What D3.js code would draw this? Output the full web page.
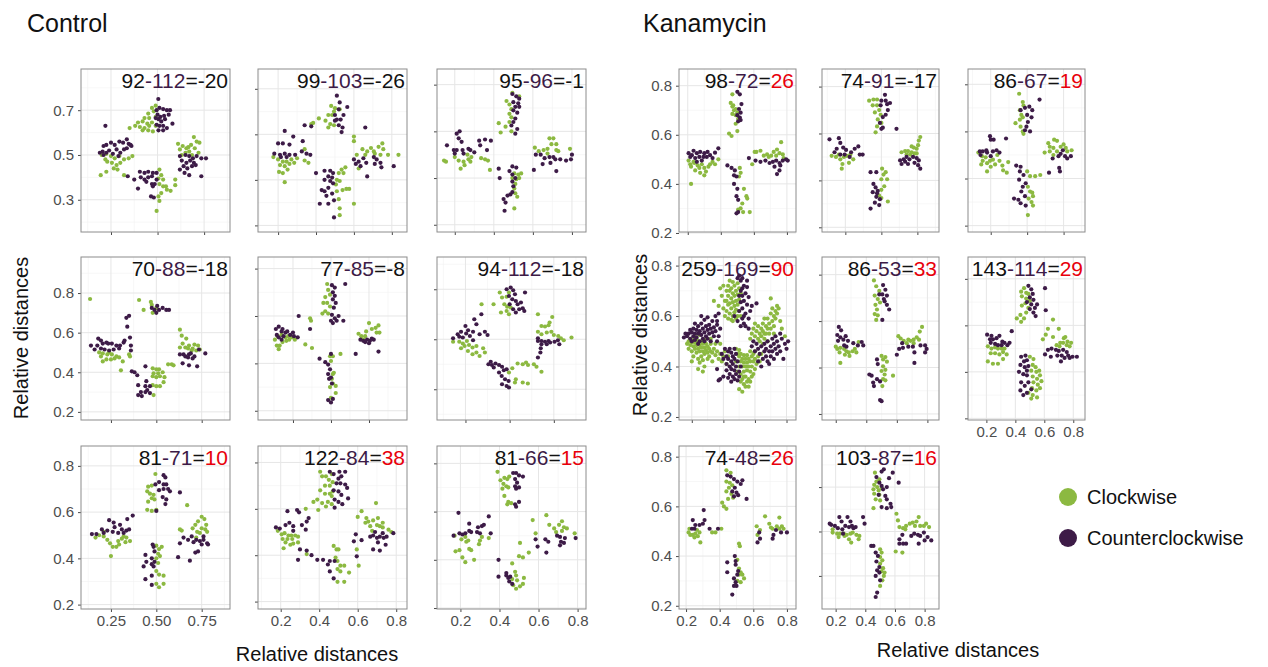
<!DOCTYPE html>
<html>
<head>
<meta charset="utf-8">
<script src="https://cdn.jsdelivr.net/npm/d3@7"></script>
<style>
  body { margin: 0; background: #fff; }
  svg { display: block; font-family: "Liberation Sans", Arial, Helvetica, sans-serif; }
</style>
</head>
<body>
<svg id="chart" width="1268" height="667"></svg>
<script>
// ---- counts shown in each panel label (clockwise - counterclockwise = diff)
const labelCw   = [92, 99, 95, 70, 77, 94, 81, 122, 81, 98, 74, 86, 259, 86, 143, 74, 103];
const labelCcw  = [112, 103, 96, 88, 85, 112, 71, 84, 66, 72, 91, 67, 169, 53, 114, 48, 87];
const labelDiff = [-20, -26, -1, -18, -8, -18, 10, 38, 15, 26, -17, 19, 90, 33, 29, 26, 16];

const seriesNames = ['Clockwise', 'Counterclockwise'];

// ---- Control
const c1Cw = [[.49,.72],[.47,.71],[.45,.685],[.48,.695],[.43,.665],[.455,.665],[.49,.67],[.395,.645],[.42,.65],[.445,.64],[.47,.645],[.38,.63],[.405,.625],[.43,.62],[.455,.63],[.49,.63],[.42,.61],[.45,.61],[.475,.605],[.35,.62],
  [.20,.50],[.225,.505],[.25,.495],[.27,.485],[.295,.495],[.32,.48],[.345,.485],[.365,.495],[.23,.47],[.255,.465],[.28,.455],[.30,.465],[.265,.44],[.285,.435],[.195,.41],[.225,.425],[.32,.41],[.22,.48],
  [.51,.435],[.52,.41],[.505,.395],[.53,.39],[.51,.37],[.53,.36],[.55,.345],[.52,.33],[.505,.315],[.51,.295],[.495,.25],[.595,.39],[.595,.365],[.57,.34],[.545,.36],
  [.61,.55],[.635,.54],[.655,.53],[.68,.545],[.695,.58],[.71,.56],[.725,.555],[.70,.53],[.67,.515],[.72,.51],[.65,.51],[.62,.525],[.685,.50],[.665,.535],[.63,.50]];
const c1Ccw = [[.504,.75],[.495,.70],[.51,.71],[.53,.705],[.55,.70],[.567,.70],[.50,.68],[.515,.67],[.535,.675],[.505,.66],[.52,.65],[.54,.66],[.495,.635],[.51,.63],[.53,.63],[.55,.62],[.505,.61],[.53,.61],[.58,.64],[.49,.665],[.56,.68],
  [.22,.63],[.21,.54],[.225,.545],[.25,.555],[.27,.545],[.295,.56],[.315,.555],[.335,.57],[.345,.55],[.36,.54],[.205,.515],[.225,.51],[.24,.52],[.26,.505],[.28,.525],[.30,.51],[.32,.525],[.335,.53],[.355,.545],[.21,.50],[.29,.495],[.19,.51],
  [.34,.405],[.375,.39],[.405,.425],[.43,.42],[.45,.425],[.475,.42],[.495,.42],[.41,.40],[.43,.39],[.45,.40],[.47,.405],[.47,.37],[.485,.37],[.475,.36],[.44,.38],[.465,.315],[.48,.31],[.495,.39],[.395,.35],
  [.62,.495],[.65,.50],[.67,.495],[.69,.485],[.71,.495],[.735,.485],[.76,.485],[.63,.475],[.655,.465],[.675,.475],[.695,.465],[.64,.45],[.66,.44],[.685,.45],[.705,.455],[.645,.42],[.67,.41],[.735,.405],[.62,.435]];

const c2Cw = [[.48,.725],[.50,.715],[.525,.71],[.465,.685],[.485,.685],[.415,.67],[.385,.65],[.45,.66],[.475,.645],[.495,.64],[.465,.63],[.495,.70],
  [.175,.50],[.20,.49],[.225,.48],[.245,.48],[.27,.49],[.30,.495],[.21,.465],[.235,.46],[.26,.47],[.285,.475],[.205,.435],[.225,.43],[.25,.445],[.235,.39],[.34,.485],[.36,.475],[.34,.535],[.375,.645],
  [.52,.43],[.535,.445],[.555,.455],[.545,.43],[.51,.40],[.525,.395],[.54,.355],[.56,.36],[.575,.36],[.51,.35],[.52,.315],[.525,.275],[.525,.245],[.60,.295],[.505,.38],
  [.60,.59],[.60,.57],[.645,.535],[.67,.525],[.69,.54],[.705,.525],[.73,.545],[.75,.56],[.755,.535],[.78,.51],[.835,.51],[.615,.51],[.66,.51],[.71,.515],[.625,.45],[.74,.51]];
const c2Ccw = [[.51,.77],[.525,.74],[.565,.72],[.52,.71],[.50,.685],[.51,.665],[.53,.665],[.52,.64],[.54,.63],[.535,.61],[.50,.66],[.545,.685],[.66,.63],
  [.235,.615],[.28,.59],[.20,.56],[.225,.56],[.26,.555],[.18,.515],[.21,.51],[.235,.515],[.26,.51],[.29,.51],[.215,.50],[.245,.50],[.33,.57],[.325,.525],[.35,.515],[.37,.51],[.34,.64],[.375,.635],
  [.40,.43],[.445,.44],[.475,.44],[.49,.43],[.465,.415],[.485,.41],[.445,.40],[.475,.395],[.49,.385],[.43,.355],[.445,.35],[.465,.365],[.485,.34],[.42,.295],[.465,.295],[.495,.31],[.495,.235],[.455,.33],
  [.60,.49],[.625,.48],[.65,.495],[.61,.47],[.635,.46],[.665,.475],[.67,.415],[.705,.50],[.72,.49],[.74,.475],[.71,.47],[.745,.455],[.81,.46]];

const c3Cw = [[.495,.765],[.465,.73],[.48,.715],[.49,.695],[.48,.675],[.49,.66],[.48,.64],[.425,.635],[.46,.62],[.435,.595],[.49,.60],[.53,.75],
  [.145,.475],[.155,.47],[.20,.49],[.22,.475],[.245,.47],[.265,.50],[.27,.48],[.285,.49],[.23,.44],[.28,.47],[.335,.485],[.355,.48],[.37,.475],[.38,.435],[.25,.455],
  [.505,.42],[.525,.415],[.54,.42],[.515,.395],[.53,.40],[.51,.375],[.505,.355],[.51,.335],[.52,.32],[.505,.27],[.495,.40],
  [.61,.53],[.63,.515],[.655,.52],[.675,.525],[.685,.57],[.705,.57],[.695,.545],[.72,.545],[.72,.52],[.73,.515],[.79,.525],[.675,.505]];
const c3Ccw = [[.495,.76],[.515,.75],[.53,.74],[.50,.725],[.525,.72],[.51,.705],[.53,.705],[.50,.69],[.52,.68],[.51,.655],[.50,.64],[.52,.61],[.51,.59],[.49,.625],
  [.225,.60],[.21,.59],[.22,.57],[.235,.555],[.16,.54],[.195,.52],[.21,.52],[.24,.52],[.20,.505],[.245,.505],[.28,.52],[.30,.51],[.325,.56],[.355,.565],[.385,.56],[.33,.54],[.365,.52],[.27,.525],
  [.425,.44],[.48,.43],[.495,.45],[.515,.445],[.495,.415],[.51,.40],[.495,.385],[.43,.40],[.50,.365],[.485,.33],[.47,.325],[.45,.31],[.46,.295],[.455,.26],[.495,.34],
  [.605,.435],[.615,.50],[.64,.50],[.66,.485],[.685,.49],[.705,.49],[.715,.48],[.74,.48],[.77,.475],[.795,.48],[.80,.50],[.72,.43],[.65,.46],[.69,.465]];

const c4Cw = [[.135,.77],[.185,.50],[.205,.495],[.23,.49],[.24,.50],[.255,.49],[.28,.48],[.205,.455],[.225,.465],[.25,.465],[.27,.47],[.295,.475],[.315,.455],[.305,.41],[.35,.49],[.355,.48],[.195,.48],
  [.405,.765],[.47,.755],[.475,.74],[.43,.715],[.48,.70],[.50,.725],
  [.48,.42],[.50,.415],[.515,.415],[.485,.395],[.51,.395],[.535,.40],[.48,.38],[.50,.375],[.52,.38],[.545,.375],[.48,.335],[.50,.33],[.52,.33],[.54,.35],[.485,.285],[.565,.44],[.585,.44],[.595,.435],
  [.63,.615],[.64,.585],[.665,.57],[.645,.545],[.63,.525],[.66,.525],[.68,.535],[.70,.52],[.71,.54],[.73,.535],[.72,.51],[.74,.515],[.695,.51],[.675,.52]];
const c4Ccw = [[.14,.535],[.175,.535],[.18,.57],[.195,.56],[.205,.545],[.225,.55],[.235,.545],[.255,.545],[.28,.535],[.195,.52],[.215,.515],[.24,.51],[.265,.515],[.295,.52],[.30,.535],[.32,.55],[.325,.56],[.355,.575],[.36,.535],[.36,.51],[.34,.63],[.335,.675],[.35,.685],[.16,.515],
  [.475,.725],[.49,.715],[.50,.70],[.515,.715],[.535,.725],[.555,.715],[.57,.715],[.505,.735],
  [.365,.405],[.38,.40],[.395,.385],[.44,.43],[.40,.335],[.40,.285],[.415,.30],[.44,.30],[.45,.31],[.465,.295],[.42,.28],[.445,.355],[.465,.33],[.44,.33],
  [.63,.49],[.65,.49],[.66,.48],[.68,.49],[.69,.495],[.71,.48],[.675,.475],[.70,.47],[.645,.445],[.68,.435],[.725,.43],[.77,.495],[.735,.515]];

const c5Cw = [[.48,.735],[.485,.71],[.47,.68],[.48,.655],[.455,.61],[.47,.62],[.495,.64],[.485,.61],[.46,.655],[.495,.69],[.39,.59],[.395,.58],
  [.205,.50],[.22,.515],[.24,.52],[.26,.51],[.275,.515],[.295,.51],[.31,.50],[.245,.49],[.265,.495],[.215,.475],[.23,.475],[.225,.46],[.365,.48],[.40,.465],[.28,.50],
  [.495,.43],[.51,.43],[.50,.41],[.55,.44],[.51,.355],[.515,.36],[.505,.335],[.51,.315],[.525,.305],[.495,.30],[.525,.275],[.50,.255],
  [.645,.525],[.66,.515],[.68,.515],[.70,.57],[.715,.545],[.735,.55],[.75,.56],[.74,.53],[.685,.535],[.67,.50],[.755,.53]];
const c5Ccw = [[.505,.73],[.52,.72],[.575,.735],[.51,.70],[.52,.685],[.51,.67],[.525,.655],[.515,.635],[.505,.605],[.52,.59],[.53,.58],[.50,.58],[.51,.57],[.565,.58],[.54,.60],[.33,.60],
  [.21,.545],[.225,.555],[.24,.535],[.215,.52],[.245,.545],[.26,.53],[.27,.535],[.285,.52],[.30,.53],[.305,.515],[.325,.51],[.225,.51],[.25,.515],[.24,.50],[.39,.545],
  [.50,.44],[.47,.405],[.485,.395],[.495,.375],[.44,.42],[.485,.355],[.50,.34],[.49,.335],[.505,.315],[.485,.245],[.50,.235],[.51,.25],
  [.63,.44],[.655,.50],[.67,.495],[.69,.50],[.705,.495],[.715,.505],[.70,.485],[.68,.49],[.75,.45],[.725,.50]];

const c6Cw = [[.444,.687],[.457,.667],[.483,.67],[.496,.687],[.47,.64],[.486,.63],[.506,.627],[.483,.613],[.451,.607],[.409,.64],[.341,.64],[.496,.60],
  [.18,.49],[.215,.49],[.235,.483],[.258,.493],[.245,.473],[.27,.477],[.225,.464],[.264,.453],[.29,.467],[.312,.473],[.35,.464],[.36,.447],[.312,.447],[.33,.433],[.29,.44],
  [.545,.403],[.574,.40],[.593,.407],[.604,.397],[.637,.40],[.652,.39],[.68,.37],[.515,.384],[.496,.367],[.535,.34],[.53,.327],[.574,.327],[.603,.323],
  [.66,.60],[.741,.589],[.726,.567],[.68,.553],[.70,.551],[.72,.556],[.66,.53],[.68,.52],[.71,.527],[.736,.53],[.75,.517],[.775,.513],[.806,.496],[.85,.507],[.79,.504]];
const c6Ccw = [[.483,.70],[.506,.707],[.52,.696],[.53,.68],[.496,.673],[.515,.66],[.535,.653],[.545,.64],[.564,.647],[.574,.624],[.554,.62],[.52,.62],[.587,.687],[.50,.64],[.535,.607],[.583,.613],
  [.18,.504],[.206,.52],[.225,.53],[.25,.553],[.265,.536],[.293,.53],[.312,.56],[.30,.58],[.34,.60],[.33,.52],[.36,.53],[.375,.517],[.235,.507],[.275,.513],[.215,.51],[.293,.496],[.254,.523],
  [.38,.40],[.393,.41],[.42,.403],[.44,.397],[.41,.387],[.457,.39],[.467,.376],[.483,.38],[.44,.367],[.455,.353],[.474,.34],[.494,.333],[.457,.32],[.483,.313],[.496,.307],[.40,.397],
  [.66,.493],[.68,.493],[.70,.49],[.72,.493],[.729,.487],[.71,.48],[.68,.48],[.754,.49],[.773,.496],[.781,.48],[.674,.447],[.66,.427],[.66,.504],[.676,.464]];

const c7Cw = [[.165,.49],[.185,.50],[.21,.495],[.23,.48],[.245,.465],[.26,.45],[.28,.45],[.29,.475],[.31,.485],[.32,.495],[.335,.49],[.355,.475],[.33,.47],[.25,.41],[.295,.46],[.21,.515],
  [.495,.765],[.455,.71],[.475,.715],[.45,.69],[.465,.68],[.485,.675],[.455,.645],[.475,.66],[.49,.655],[.45,.61],[.475,.605],[.50,.61],
  [.50,.455],[.515,.44],[.51,.42],[.52,.41],[.50,.40],[.51,.38],[.50,.345],[.515,.33],[.54,.325],[.50,.29],[.515,.275],[.54,.29],[.53,.45],
  [.63,.525],[.64,.52],[.67,.63],[.70,.53],[.715,.545],[.73,.56],[.75,.58],[.765,.57],[.775,.545],[.75,.53],[.725,.515],[.74,.51],[.77,.525],[.78,.515],[.72,.49]];
const c7Ccw = [[.145,.505],[.17,.505],[.20,.525],[.21,.51],[.23,.52],[.24,.565],[.265,.555],[.27,.535],[.29,.51],[.31,.525],[.32,.51],[.335,.52],[.35,.525],[.34,.57],[.37,.585],[.30,.545],[.26,.515],
  [.54,.76],[.55,.75],[.515,.73],[.54,.72],[.555,.72],[.515,.695],[.54,.70],[.565,.70],[.575,.69],[.535,.665],[.555,.655],[.55,.635],[.50,.605],[.63,.685],[.495,.72],
  [.44,.415],[.445,.385],[.43,.365],[.475,.375],[.48,.46],[.485,.45],[.49,.43],[.475,.40],[.49,.385],[.485,.365],[.475,.325],[.44,.31],[.475,.285],
  [.62,.405],[.63,.465],[.65,.49],[.675,.48],[.695,.495],[.72,.48],[.74,.475],[.76,.48],[.78,.465],[.785,.46],[.75,.46],[.73,.43],[.715,.425],[.685,.39],[.76,.495],[.705,.47]];

const c8Cw = [[.405,.76],[.415,.74],[.435,.74],[.45,.725],[.465,.75],[.43,.70],[.455,.70],[.47,.715],[.405,.68],[.43,.665],[.455,.665],[.47,.675],[.39,.64],[.415,.625],[.445,.63],[.465,.655],[.37,.63],[.395,.595],[.435,.61],[.465,.62],
  [.185,.505],[.205,.49],[.22,.495],[.24,.485],[.255,.485],[.275,.485],[.29,.48],[.21,.47],[.235,.47],[.26,.47],[.29,.455],[.215,.43],[.25,.445],[.265,.45],[.335,.405],[.33,.60],[.225,.455],
  [.475,.44],[.49,.425],[.50,.425],[.485,.39],[.495,.375],[.51,.355],[.495,.34],[.51,.33],[.53,.355],[.495,.285],[.53,.285],[.555,.325],
  [.595,.425],[.605,.355],[.60,.565],[.62,.59],[.64,.54],[.655,.545],[.665,.525],[.68,.55],[.695,.625],[.70,.53],[.715,.525],[.73,.54],[.73,.52],[.76,.51],[.775,.50],[.645,.56],[.675,.505],[.705,.56]];
const c8Ccw = [[.455,.76],[.475,.75],[.505,.76],[.535,.76],[.50,.73],[.515,.74],[.49,.71],[.51,.71],[.535,.705],[.545,.69],[.475,.68],[.50,.675],[.515,.66],[.48,.64],[.50,.63],[.55,.645],[.48,.605],[.52,.62],
  [.175,.52],[.195,.515],[.225,.53],[.245,.54],[.265,.525],[.235,.59],[.285,.595],[.295,.585],[.31,.53],[.33,.51],[.335,.545],[.345,.56],[.265,.505],[.30,.425],[.29,.38],[.335,.42],[.36,.40],[.39,.38],[.42,.38],
  [.445,.36],[.455,.33],[.475,.30],[.48,.375],[.455,.375],
  [.58,.46],[.59,.49],[.595,.395],[.62,.465],[.665,.48],[.68,.485],[.70,.475],[.715,.48],[.735,.475],[.75,.48],[.705,.455],[.745,.445],[.715,.42],[.68,.425],[.785,.495],[.73,.495],[.69,.50]];

const c9Cw = [[.39,.765],[.405,.73],[.425,.74],[.44,.735],[.45,.745],[.42,.715],[.435,.705],[.415,.695],[.445,.70],[.425,.665],[.445,.64],[.44,.63],[.46,.635],
  [.17,.50],[.175,.435],[.195,.44],[.205,.485],[.21,.41],[.225,.495],[.23,.475],[.24,.48],[.245,.445],[.225,.39],[.27,.40],[.295,.465],[.30,.48],[.31,.495],[.345,.49],[.255,.44],
  [.465,.385],[.48,.35],[.485,.335],[.465,.32],[.49,.315],[.47,.295],[.485,.28],[.505,.29],[.52,.30],[.505,.47],[.50,.415],[.52,.41],[.55,.43],[.525,.325],
  [.57,.565],[.585,.51],[.655,.545],[.68,.53],[.69,.515],[.705,.545],[.72,.56],[.73,.535],[.745,.53],[.72,.52],[.64,.585],[.785,.51]];
const c9Ccw = [[.47,.76],[.485,.76],[.50,.75],[.52,.745],[.48,.735],[.49,.72],[.48,.705],[.485,.695],[.50,.70],[.50,.64],[.485,.62],[.48,.63],
  [.165,.50],[.19,.595],[.195,.51],[.21,.505],[.225,.51],[.245,.55],[.245,.52],[.255,.515],[.285,.515],[.29,.535],[.30,.51],[.31,.54],[.32,.545],[.345,.58],[.355,.51],
  [.395,.40],[.395,.33],[.435,.335],[.445,.325],[.455,.33],[.45,.31],[.465,.30],[.435,.345],
  [.585,.485],[.595,.455],[.635,.485],[.64,.43],[.695,.50],[.71,.495],[.715,.475],[.73,.47],[.71,.46],[.735,.49],[.79,.49],[.65,.475]];

// ---- Kanamycin
const k1Cw = [[.205,.495],[.22,.47],[.235,.49],[.245,.455],[.26,.475],[.27,.465],[.285,.48],[.30,.465],[.31,.45],[.325,.47],[.335,.48],[.35,.49],[.365,.48],[.385,.50],[.22,.40],[.275,.445],[.30,.435],[.24,.485],[.215,.48],
  [.47,.765],[.46,.73],[.47,.715],[.48,.70],[.49,.705],[.50,.69],[.47,.685],[.49,.68],[.505,.665],[.49,.645],[.45,.605],[.465,.595],[.50,.615],[.475,.72],
  [.515,.465],[.52,.445],[.51,.43],[.54,.38],[.555,.35],[.53,.32],[.52,.30],[.505,.295],[.535,.285],[.575,.285],[.56,.34],
  [.605,.53],[.615,.53],[.64,.535],[.66,.515],[.68,.52],[.705,.515],[.72,.53],[.74,.54],[.765,.57],[.755,.525],[.775,.52],[.78,.505],[.59,.48],[.735,.515],[.69,.51]];
const k1Ccw = [[.205,.525],[.225,.517],[.235,.535],[.255,.525],[.275,.53],[.30,.525],[.32,.53],[.335,.517],[.365,.527],[.385,.545],[.215,.51],[.245,.505],[.27,.51],[.295,.51],[.315,.51],[.35,.505],[.255,.49],[.285,.495],
  [.50,.775],[.515,.765],[.525,.725],[.51,.705],[.52,.69],[.515,.67],[.505,.655],[.52,.66],[.50,.68],
  [.44,.475],[.465,.465],[.485,.455],[.48,.435],[.495,.43],[.48,.40],[.50,.38],[.495,.35],[.505,.335],[.495,.28],[.505,.285],
  [.57,.505],[.61,.495],[.64,.49],[.67,.495],[.695,.485],[.715,.49],[.735,.495],[.755,.485],[.775,.495],[.795,.50],[.725,.47],[.755,.455],[.74,.44],[.76,.475],[.805,.495]];

const k2Cw = [[.415,.74],[.445,.745],[.47,.745],[.44,.72],[.47,.72],[.485,.70],[.455,.69],[.495,.68],[.475,.66],[.50,.645],[.47,.63],[.46,.605],
  [.155,.505],[.185,.50],[.205,.51],[.215,.49],[.24,.50],[.26,.505],[.285,.51],[.23,.47],[.275,.475],[.305,.49],[.225,.45],
  [.505,.45],[.515,.425],[.53,.435],[.50,.405],[.54,.405],[.52,.375],[.50,.36],[.485,.335],[.50,.325],[.545,.31],
  [.64,.52],[.665,.525],[.685,.525],[.71,.52],[.725,.54],[.745,.535],[.755,.55],[.76,.57],[.77,.585],[.73,.515],[.71,.545],[.745,.515],[.675,.51],[.70,.51]];
const k2Ccw = [[.14,.575],[.205,.58],[.215,.56],[.19,.535],[.175,.52],[.235,.54],[.255,.53],[.245,.51],[.29,.52],[.315,.535],[.34,.545],[.35,.51],[.37,.51],[.28,.50],[.215,.51],
  [.525,.765],[.50,.74],[.53,.74],[.54,.725],[.495,.72],[.545,.70],[.53,.68],[.51,.67],[.49,.645],[.51,.625],[.50,.62],[.605,.62],[.56,.73],
  [.425,.435],[.465,.435],[.445,.385],[.46,.37],[.44,.35],[.475,.355],[.465,.33],[.49,.32],[.455,.305],[.425,.28],[.485,.295],[.47,.345],
  [.63,.485],[.64,.47],[.655,.49],[.675,.50],[.695,.49],[.72,.50],[.745,.495],[.76,.485],[.77,.45],[.73,.475],[.685,.47],[.755,.465],[.665,.48]];

const k3Cw = [[.445,.76],[.47,.725],[.475,.71],[.45,.69],[.46,.67],[.47,.66],[.42,.635],[.455,.62],[.47,.60],[.475,.59],[.45,.65],
  [.165,.51],[.19,.495],[.195,.475],[.215,.49],[.225,.465],[.245,.475],[.25,.45],[.265,.48],[.28,.46],[.295,.50],[.31,.475],[.335,.435],[.36,.425],[.225,.43],[.185,.46],[.33,.455],[.37,.47],
  [.50,.43],[.52,.41],[.555,.41],[.59,.415],[.505,.365],[.52,.345],[.535,.34],[.51,.315],[.53,.30],[.54,.285],[.505,.245],[.54,.325],
  [.62,.51],[.645,.55],[.655,.535],[.68,.53],[.685,.565],[.705,.56],[.73,.535],[.75,.545],[.765,.53],[.68,.50],[.705,.515],[.775,.515],[.805,.52],[.655,.515]];
const k3Ccw = [[.455,.69],[.485,.70],[.515,.705],[.535,.69],[.50,.67],[.53,.66],[.505,.64],[.495,.62],[.485,.605],[.52,.60],[.585,.735],
  [.175,.515],[.18,.50],[.195,.515],[.225,.51],[.245,.58],[.25,.565],[.265,.515],[.29,.52],[.31,.51],[.27,.565],[.355,.57],[.25,.495],[.22,.52],
  [.425,.455],[.455,.45],[.45,.43],[.475,.415],[.445,.395],[.47,.365],[.49,.38],[.46,.345],[.485,.325],[.455,.295],[.49,.285],[.41,.315],[.44,.31],
  [.675,.485],[.715,.495],[.73,.505],[.76,.495],[.775,.485],[.80,.495],[.72,.445],[.725,.43],[.65,.425],[.745,.52]];

const k4Cw = [[.17,.49],[.18,.50],[.18,.47],[.19,.485],[.19,.51],[.20,.46],[.20,.495],[.21,.48],[.21,.505],[.21,.44],[.22,.47],[.22,.495],[.23,.455],[.23,.485],[.23,.51],[.24,.47],[.24,.43],[.24,.50],[.25,.46],[.25,.485],[.25,.415],[.26,.475],[.26,.50],[.26,.44],[.27,.46],[.27,.49],[.27,.425],[.28,.475],[.28,.45],[.28,.40],[.29,.465],[.29,.49],[.30,.455],[.30,.48],[.30,.43],[.31,.47],[.31,.44],[.32,.46],[.32,.49],[.33,.455],[.33,.42],[.34,.47],[.35,.445],[.36,.46],[.37,.43],[.38,.45],[.39,.42],[.40,.44],[.41,.46],[.22,.52],[.25,.525],[.29,.51],[.20,.42],[.24,.39],[.27,.38],[.32,.51],[.35,.49],[.38,.49],[.42,.41],[.43,.44],
  [.40,.63],[.41,.60],[.41,.66],[.42,.70],[.42,.62],[.43,.72],[.43,.68],[.43,.59],[.44,.74],[.44,.65],[.44,.61],[.45,.71],[.45,.67],[.45,.63],[.45,.585],[.46,.735],[.46,.69],[.46,.655],[.46,.60],[.47,.72],[.47,.68],[.47,.64],[.47,.615],[.48,.70],[.48,.66],[.48,.625],[.48,.59],[.49,.73],[.49,.685],[.49,.645],[.50,.71],[.50,.665],[.50,.62],[.51,.69],[.51,.60],[.42,.66],[.44,.70],[.46,.58],[.39,.68],[.37,.64],[.34,.66],[.38,.71],[.40,.72],[.49,.60],[.43,.645],
  [.48,.47],[.49,.45],[.50,.44],[.50,.465],[.51,.42],[.51,.45],[.52,.43],[.52,.40],[.53,.445],[.53,.415],[.53,.38],[.54,.43],[.54,.40],[.54,.36],[.55,.445],[.55,.415],[.55,.385],[.56,.43],[.56,.40],[.56,.35],[.57,.42],[.57,.38],[.58,.44],[.58,.40],[.59,.42],[.59,.37],[.60,.43],[.60,.39],[.61,.41],[.62,.44],[.50,.40],[.51,.37],[.52,.35],[.53,.33],[.54,.32],[.55,.34],[.57,.34],[.58,.36],[.50,.31],[.52,.30],[.49,.38],[.48,.42],[.63,.42],[.64,.45],[.60,.46],[.57,.46],[.51,.34],[.56,.32],[.53,.36],[.59,.45],
  [.58,.53],[.59,.55],[.60,.52],[.61,.54],[.62,.51],[.62,.56],[.63,.53],[.63,.50],[.64,.55],[.64,.52],[.65,.57],[.65,.54],[.65,.49],[.66,.53],[.66,.51],[.67,.56],[.67,.53],[.68,.59],[.68,.55],[.68,.50],[.69,.57],[.69,.53],[.70,.61],[.70,.55],[.71,.58],[.71,.63],[.72,.60],[.72,.56],[.73,.62],[.73,.59],[.74,.61],[.74,.64],[.70,.67],[.75,.63],[.76,.58],[.77,.55],[.79,.52],[.57,.51],[.60,.57],[.66,.59],[.72,.53]];
const k4Ccw = [[.15,.515],[.17,.52],[.18,.53],[.19,.51],[.20,.535],[.21,.52],[.21,.55],[.22,.505],[.22,.53],[.23,.545],[.23,.515],[.24,.56],[.24,.53],[.25,.50],[.25,.54],[.26,.57],[.26,.525],[.27,.55],[.27,.51],[.28,.585],[.28,.535],[.29,.56],[.29,.52],[.30,.545],[.30,.595],[.31,.53],[.31,.565],[.32,.55],[.32,.50],[.33,.58],[.33,.535],[.34,.555],[.34,.52],[.35,.54],[.36,.50],[.36,.565],[.37,.52],[.19,.545],[.20,.50],[.24,.49],[.26,.60],[.30,.51],[.35,.60],[.38,.55],[.16,.53],[.22,.57],[.28,.50],
  [.50,.76],[.51,.74],[.52,.75],[.53,.72],[.51,.70],[.52,.68],[.54,.69],[.53,.66],[.51,.655],[.52,.63],[.55,.645],[.54,.61],[.52,.59],[.53,.57],[.51,.56],[.56,.675],[.55,.715],[.50,.62],[.53,.60],[.57,.62],[.56,.59],[.49,.58],[.54,.56],[.37,.61],[.36,.58],[.58,.64],[.61,.65],[.55,.74],[.52,.71],[.50,.68],[.49,.75],[.56,.55],[.47,.60],
  [.39,.45],[.40,.43],[.41,.47],[.42,.44],[.42,.41],[.43,.46],[.43,.43],[.44,.40],[.44,.37],[.45,.455],[.45,.42],[.45,.39],[.46,.44],[.46,.41],[.46,.36],[.47,.43],[.47,.385],[.47,.35],[.48,.40],[.48,.37],[.49,.42],[.49,.345],[.50,.38],[.50,.36],[.38,.35],[.37,.345],[.40,.36],[.42,.385],[.44,.47],[.48,.45],[.51,.40],[.36,.39],[.45,.34],[.47,.47],[.43,.355],
  [.58,.48],[.59,.50],[.60,.46],[.61,.49],[.62,.47],[.63,.45],[.64,.48],[.65,.43],[.66,.46],[.66,.49],[.67,.44],[.67,.47],[.68,.50],[.68,.42],[.69,.46],[.70,.48],[.70,.44],[.71,.51],[.71,.46],[.72,.43],[.72,.49],[.73,.47],[.73,.52],[.74,.45],[.74,.50],[.75,.48],[.76,.46],[.77,.51],[.78,.43],[.79,.49],[.80,.47],[.81,.50],[.76,.53],[.64,.40],[.69,.41],[.62,.42]];

const k5Cw = [[.45,.775],[.465,.75],[.485,.73],[.455,.71],[.475,.695],[.46,.67],[.47,.65],[.455,.63],[.465,.605],[.475,.625],[.49,.68],
  [.20,.49],[.21,.48],[.23,.485],[.255,.48],[.27,.47],[.285,.465],[.31,.47],[.325,.48],[.225,.465],[.26,.455],[.29,.45],[.23,.42],[.35,.51],[.335,.465],
  [.50,.45],[.51,.435],[.525,.445],[.535,.425],[.51,.405],[.50,.385],[.52,.37],[.51,.35],[.525,.345],[.505,.32],[.575,.365],[.525,.39],
  [.61,.535],[.625,.525],[.645,.515],[.665,.505],[.69,.515],[.71,.52],[.73,.53],[.75,.555],[.765,.575],[.745,.52],[.71,.505],[.675,.52]];
const k5Ccw = [[.22,.575],[.235,.56],[.21,.54],[.23,.53],[.25,.52],[.265,.535],[.28,.515],[.255,.495],[.215,.515],[.315,.505],[.345,.495],[.37,.51],[.38,.495],[.27,.49],
  [.51,.755],[.525,.735],[.535,.71],[.515,.695],[.505,.715],[.52,.685],[.535,.67],[.55,.65],[.505,.605],[.485,.715],
  [.47,.435],[.475,.415],[.42,.37],[.445,.335],[.47,.35],[.49,.34],[.45,.32],[.49,.26],[.50,.255],[.435,.365],
  [.60,.455],[.615,.48],[.64,.485],[.675,.49],[.705,.49],[.715,.465],[.755,.495],[.785,.495],[.795,.48],[.715,.42],[.785,.465],[.635,.505]];

const k6Cw = [[.44,.745],[.46,.76],[.475,.74],[.49,.735],[.445,.725],[.475,.715],[.50,.705],[.47,.695],[.445,.685],[.49,.675],[.475,.655],[.435,.645],[.46,.63],[.41,.63],[.44,.615],
  [.21,.51],[.235,.50],[.26,.505],[.28,.50],[.305,.50],[.325,.50],[.23,.48],[.26,.48],[.29,.475],[.315,.485],[.34,.475],[.21,.445],[.245,.435],[.28,.435],[.315,.455],
  [.50,.465],[.525,.455],[.52,.43],[.54,.42],[.51,.405],[.545,.40],[.565,.405],[.52,.38],[.55,.37],[.57,.385],[.525,.355],[.555,.345],[.58,.36],[.515,.33],[.545,.32],[.57,.33],[.52,.30],[.51,.285],[.55,.29],[.49,.31],
  [.59,.54],[.61,.56],[.625,.585],[.66,.55],[.66,.625],[.685,.515],[.71,.525],[.73,.525],[.755,.515],[.775,.51],[.705,.51],[.735,.545],[.76,.53],[.785,.525],[.70,.585],[.745,.55]];
const k6Ccw = [[.49,.77],[.51,.755],[.52,.735],[.50,.72],[.525,.71],[.51,.69],[.535,.675],[.50,.67],[.525,.655],[.54,.64],[.605,.76],[.61,.665],[.48,.70],[.55,.69],
  [.205,.56],[.235,.555],[.245,.54],[.27,.545],[.29,.555],[.31,.53],[.23,.525],[.26,.52],[.28,.515],[.305,.515],[.325,.525],[.345,.515],[.36,.525],[.375,.575],[.225,.54],
  [.44,.465],[.46,.445],[.47,.47],[.48,.45],[.435,.43],[.465,.42],[.49,.425],[.425,.40],[.455,.39],[.48,.385],[.44,.355],[.465,.34],[.49,.355],[.435,.32],[.455,.30],[.48,.31],[.51,.325],[.48,.405],
  [.605,.475],[.625,.495],[.65,.50],[.68,.495],[.70,.49],[.73,.495],[.755,.485],[.69,.47],[.72,.47],[.74,.46],[.765,.47],[.715,.445],[.775,.46],[.795,.465],[.825,.465],[.645,.465]];

const k7Cw = [[.215,.495],[.225,.485],[.24,.485],[.255,.49],[.265,.505],[.25,.475],[.27,.48],[.28,.495],[.285,.455],[.355,.495],[.375,.495],[.41,.51],[.22,.51],
  [.44,.745],[.465,.735],[.44,.70],[.46,.695],[.475,.685],[.455,.675],[.44,.66],[.47,.65],[.45,.63],[.425,.60],[.44,.59],[.415,.615],[.48,.635],
  [.515,.45],[.52,.44],[.505,.385],[.515,.35],[.525,.335],[.515,.325],[.535,.325],[.545,.31],[.505,.30],[.525,.295],
  [.62,.52],[.64,.505],[.625,.485],[.67,.56],[.695,.53],[.705,.515],[.74,.52],[.755,.51],[.77,.52],[.755,.555],[.78,.51],[.715,.51]];
const k7Ccw = [[.24,.545],[.255,.525],[.25,.51],[.28,.525],[.30,.53],[.305,.585],[.31,.545],[.34,.51],[.39,.51],[.235,.51],
  [.445,.725],[.465,.72],[.485,.71],[.505,.70],[.49,.675],[.475,.66],[.50,.655],[.51,.645],[.525,.69],[.535,.705],[.56,.63],[.485,.64],
  [.49,.40],[.495,.38],[.495,.365],[.445,.375],[.445,.335],[.51,.34],[.505,.325],[.485,.31],[.495,.295],[.475,.245],[.50,.28],[.485,.28],
  [.635,.495],[.64,.47],[.625,.455],[.72,.485],[.715,.47],[.735,.505],[.765,.495],[.80,.495]];

const k8Cw = [[.465,.765],[.475,.725],[.495,.735],[.46,.71],[.48,.70],[.455,.69],[.49,.685],[.46,.67],[.495,.665],[.47,.645],[.50,.64],[.455,.605],[.51,.695],
  [.18,.495],[.21,.49],[.23,.49],[.255,.49],[.275,.485],[.30,.49],[.315,.495],[.34,.485],[.22,.475],[.26,.48],[.29,.465],[.305,.45],[.355,.465],[.36,.48],[.18,.51],
  [.50,.42],[.51,.405],[.50,.385],[.515,.37],[.50,.355],[.52,.335],[.51,.32],[.525,.30],[.515,.28],[.50,.255],[.53,.315],
  [.61,.58],[.62,.55],[.63,.52],[.655,.515],[.675,.525],[.70,.535],[.72,.54],[.745,.545],[.76,.565],[.735,.525],[.77,.525],[.795,.525],[.81,.535],[.83,.52],[.605,.41],[.65,.405],[.67,.51]];
const k8Ccw = [[.525,.78],[.51,.77],[.475,.745],[.495,.72],[.51,.705],[.52,.69],[.545,.70],[.49,.665],[.535,.66],[.545,.645],[.51,.61],[.545,.605],[.585,.765],[.56,.74],[.625,.72],[.57,.625],[.575,.61],
  [.16,.535],[.17,.53],[.195,.525],[.225,.565],[.24,.545],[.215,.515],[.245,.51],[.265,.525],[.28,.565],[.30,.545],[.29,.52],[.31,.525],[.32,.515],[.335,.52],[.385,.565],[.395,.535],[.25,.49],
  [.44,.435],[.455,.435],[.47,.405],[.485,.39],[.475,.365],[.48,.325],[.495,.315],[.47,.30],[.50,.28],[.48,.225],[.47,.205],[.495,.34],
  [.63,.465],[.65,.485],[.63,.445],[.655,.445],[.71,.48],[.73,.49],[.755,.485],[.77,.48],[.795,.495],[.82,.475],[.76,.445],[.80,.46],[.845,.46],[.675,.445]];

// ---- tick values
const ticks2 = [0.2, 0.4, 0.6, 0.8];
const ticksQ = [0.25, 0.5, 0.75];
const ticks3 = [0.3, 0.5, 0.7];

// ---- layout
const COL_X = { c: [81, 258, 437], k: [679, 822, 968] };
const COL_W = { c: 149, k: 117 };
const ROW_Y = [69, 257, 446];
const ROW_H = 163;

const GREEN = '#8cb941';
const PURPLE = '#3d1b47';
const RED = '#e8000b';
const TICK_TXT = '#4d4d4d';

const panels = [
  { g: 'c', col: 0, row: 0, xd: [.089, .889], yd: [.156, .884], xt: ticksQ, yt: ticks3, cw: c1Cw, ccw: c1Ccw },
  { g: 'c', col: 1, row: 0, xd: [.094, .880], yd: [.171, .887], xt: ticks2, yt: ticks2, cw: c2Cw, ccw: c2Ccw },
  { g: 'c', col: 2, row: 0, xd: [.109, .872], yd: [.169, .867], xt: ticks2, yt: ticks2, cw: c3Cw, ccw: c3Ccw },
  { g: 'c', col: 0, row: 1, xd: [.085, .906], yd: [.159, .982], xt: ticksQ, yt: ticks2, cw: c4Cw, ccw: c4Ccw },
  { g: 'c', col: 1, row: 1, xd: [.116, .900], yd: [.161, .849], xt: ticks3, yt: ticks2, cw: c5Cw, ccw: c5Ccw },
  { g: 'c', col: 2, row: 1, xd: [.089, .932], yd: [.177, .829], xt: ticksQ, yt: ticks3, cw: c6Cw, ccw: c6Ccw },
  { g: 'c', col: 0, row: 2, xd: [.085, .906], yd: [.181, .886], xt: ticksQ, yt: ticks2, cw: c7Cw, ccw: c7Ccw },
  { g: 'c', col: 1, row: 2, xd: [.082, .856], yd: [.168, .871], xt: ticks2, yt: ticks2, cw: c8Cw, ccw: c8Ccw },
  { g: 'c', col: 2, row: 2, xd: [.080, .843], yd: [.196, .872], xt: ticks2, yt: ticks2, cw: c9Cw, ccw: c9Ccw },
  { g: 'k', col: 0, row: 0, xd: [.147, .855], yd: [.204, .868], xt: ticks2, yt: ticks2, cw: k1Cw, ccw: k1Ccw },
  { g: 'k', col: 1, row: 0, xd: [.088, .900], yd: [.180, .875], xt: ticksQ, yt: ticks2, cw: k2Cw, ccw: k2Ccw },
  { g: 'k', col: 2, row: 0, xd: [.094, .897], yd: [.173, .865], xt: ticksQ, yt: ticks2, cw: k3Cw, ccw: k3Ccw },
  { g: 'k', col: 0, row: 1, xd: [.119, .860], yd: [.188, .834], xt: ticks2, yt: ticks2, cw: k4Cw, ccw: k4Ccw },
  { g: 'k', col: 1, row: 1, xd: [.110, .876], yd: [.174, .876], xt: ticks2, yt: ticks2, cw: k5Cw, ccw: k5Ccw },
  { g: 'k', col: 2, row: 1, xd: [.073, .881], yd: [.193, .894], xt: ticks2, yt: ticks2, cw: k6Cw, ccw: k6Ccw, xLabels: true },
  { g: 'k', col: 0, row: 2, xd: [.158, .854], yd: [.187, .843], xt: ticks2, yt: ticks2, cw: k7Cw, ccw: k7Ccw },
  { g: 'k', col: 1, row: 2, xd: [.108, .897], yd: [.151, .885], xt: ticks2, yt: ticks3, cw: k8Cw, ccw: k8Ccw }
];

const svg = d3.select('#chart');

function minorBreaks(t, dom) {
  const step = t[1] - t[0];
  const out = [t[0] - step / 2];
  t.forEach(v => out.push(v + step / 2));
  return out.filter(v => v > dom[0] && v < dom[1]);
}

function fmtFor(t) {
  return t === ticksQ ? d3.format('.2f') : d3.format('.1f');
}

panels.forEach((p, i) => {
  const x0 = COL_X[p.g][p.col];
  const y0 = ROW_Y[p.row];
  const w = COL_W[p.g];
  const h = ROW_H;

  const x = d3.scaleLinear().domain(p.xd).range([x0, x0 + w]);
  const y = d3.scaleLinear().domain(p.yd).range([y0 + h, y0]);

  const g = svg.append('g');

  // Grid: minor first, then major
  g.selectAll(null).data(minorBreaks(p.xt, p.xd)).enter().append('line')
    .attr('x1', d => x(d)).attr('x2', d => x(d)).attr('y1', y0).attr('y2', y0 + h)
    .attr('stroke', '#f2f2f2').attr('stroke-width', 0.6);
  g.selectAll(null).data(minorBreaks(p.yt, p.yd)).enter().append('line')
    .attr('y1', d => y(d)).attr('y2', d => y(d)).attr('x1', x0).attr('x2', x0 + w)
    .attr('stroke', '#f2f2f2').attr('stroke-width', 0.6);
  g.selectAll(null).data(p.xt).enter().append('line')
    .attr('x1', d => x(d)).attr('x2', d => x(d)).attr('y1', y0).attr('y2', y0 + h)
    .attr('stroke', '#e6e6e6').attr('stroke-width', 1);
  g.selectAll(null).data(p.yt).enter().append('line')
    .attr('y1', d => y(d)).attr('y2', d => y(d)).attr('x1', x0).attr('x2', x0 + w)
    .attr('stroke', '#e6e6e6').attr('stroke-width', 1);

  // Axes
  const showY = p.col === 0;
  const showX = p.row === 2 || p.xLabels;

  const ax = g.append('g')
    .attr('transform', `translate(0,${y0 + h})`)
    .call(d3.axisBottom(x).tickValues(p.xt).tickSize(3).tickPadding(3)
      .tickFormat(showX ? fmtFor(p.xt) : () => ''));
  const ay = g.append('g')
    .attr('transform', `translate(${x0},0)`)
    .call(d3.axisLeft(y).tickValues(p.yt).tickSize(3).tickPadding(4)
      .tickFormat(showY ? fmtFor(p.yt) : () => ''));
  [ax, ay].forEach(a => {
    a.select('.domain').remove();
    a.selectAll('.tick line').attr('stroke', '#333').attr('stroke-width', 0.9);
    a.selectAll('.tick text').attr('fill', TICK_TXT).style('font-size', '15px')
      .style('font-family', '"Liberation Sans", Arial, sans-serif');
  });

  // Points
  g.selectAll(null).data(p.cw).enter().append('circle')
    .attr('cx', d => x(d[0])).attr('cy', d => y(d[1])).attr('r', 2.1)
    .attr('fill', GREEN);
  g.selectAll(null).data(p.ccw).enter().append('circle')
    .attr('cx', d => x(d[0])).attr('cy', d => y(d[1])).attr('r', 2.1)
    .attr('fill', PURPLE);

  // Border
  g.append('rect')
    .attr('x', x0).attr('y', y0).attr('width', w).attr('height', h)
    .attr('fill', 'none').attr('stroke', '#8c8c8c').attr('stroke-width', 1);

  // Label "a-b=d"
  const diff = labelDiff[i];
  const t = g.append('text')
    .attr('x', x0 + w - 2).attr('y', y0 + 19)
    .attr('text-anchor', 'end')
    .style('font-size', '21px');
  t.append('tspan').attr('fill', '#111').text(labelCw[i]);
  t.append('tspan').attr('fill', PURPLE).text('-' + labelCcw[i]);
  t.append('tspan').attr('fill', '#111').text('=');
  t.append('tspan').attr('fill', diff > 0 ? RED : '#111').text(diff);
});

// Group titles
svg.append('text').attr('x', 27).attr('y', 32).style('font-size', '25px').attr('fill', '#111').text('Control');
svg.append('text').attr('x', 643).attr('y', 32).style('font-size', '25px').attr('fill', '#111').text('Kanamycin');

// Axis titles
svg.append('text').attr('x', 317).attr('y', 661).attr('text-anchor', 'middle')
  .style('font-size', '20px').attr('fill', '#111').text('Relative distances');
svg.append('text').attr('x', 958).attr('y', 657).attr('text-anchor', 'middle')
  .style('font-size', '20px').attr('fill', '#111').text('Relative distances');
svg.append('text').attr('transform', 'translate(28,338) rotate(-90)').attr('text-anchor', 'middle')
  .style('font-size', '20px').attr('fill', '#111').text('Relative distances');
svg.append('text').attr('transform', 'translate(647,335) rotate(-90)').attr('text-anchor', 'middle')
  .style('font-size', '20px').attr('fill', '#111').text('Relative distances');

// Legend
const legend = svg.append('g').attr('transform', 'translate(1068,497)');
seriesNames.forEach((name, i) => {
  const row = legend.append('g').attr('transform', `translate(0,${i * 41})`);
  row.append('circle').attr('r', 9).attr('fill', i === 0 ? GREEN : PURPLE);
  row.append('text').attr('x', 19).attr('y', 7).style('font-size', '20px').attr('fill', '#111').text(name);
});
</script>
</body>
</html>
